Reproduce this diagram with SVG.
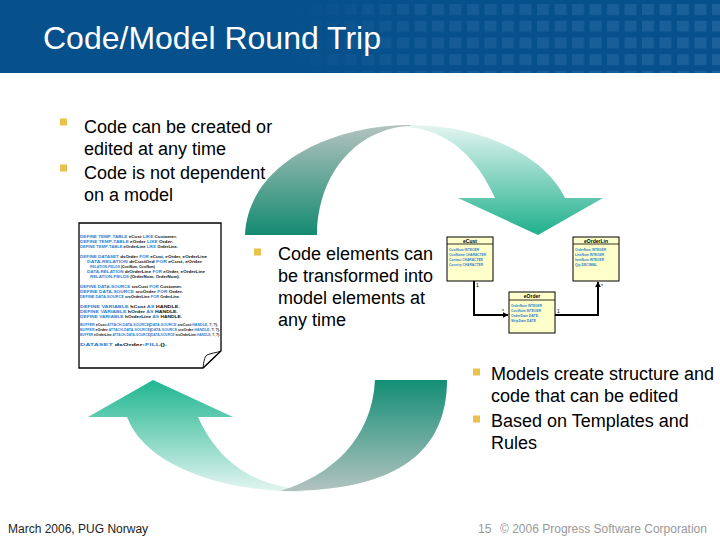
<svg xmlns="http://www.w3.org/2000/svg" width="720" height="540" viewBox="0 0 720 540">
<defs>
<style>
.t{font-family:"Liberation Sans",Arial,sans-serif;fill:#000}
.b18{font-size:18px}
.bul{fill:#e8c24a}
.code{font-family:"Liberation Sans",Arial,sans-serif;font-size:3.6px;font-weight:bold;fill:#111}
.code2{font-size:3.3px}
.kw{fill:#2f7fd0}
.box{fill:#ffffcc;stroke:#000;stroke-width:1}
.bt{font-family:"Liberation Sans",Arial,sans-serif;font-size:5px;font-weight:bold;fill:#000}
.at{font-family:"Liberation Sans",Arial,sans-serif;font-size:3.8px;font-weight:bold;fill:#2f7fd0}
.conn{fill:none;stroke:#000;stroke-width:2}
.mult{font-family:"Liberation Sans",Arial,sans-serif;font-size:5px;fill:#000}
</style>
<pattern id="sq" patternUnits="userSpaceOnUse" x="292" y="4" width="17.5" height="16.7">
<rect x="0" y="0" width="12" height="11" fill="#3a78b0" fill-opacity="0.45"/>
</pattern>
<linearGradient id="fade" gradientUnits="userSpaceOnUse" x1="292" y1="0" x2="720" y2="0">
<stop offset="0" stop-color="#06508b" stop-opacity="1"/>
<stop offset="0.3" stop-color="#06508b" stop-opacity="0.4"/>
<stop offset="1" stop-color="#06508b" stop-opacity="0.1"/>
</linearGradient>
<linearGradient id="topTail" gradientUnits="userSpaceOnUse" x1="0" y1="125" x2="0" y2="235">
<stop offset="0" stop-color="#b4c3c0"/>
<stop offset="1" stop-color="#138a70"/>
</linearGradient>
<linearGradient id="topHead" gradientUnits="userSpaceOnUse" x1="0" y1="125" x2="0" y2="235">
<stop offset="0" stop-color="#e4f5f1"/>
<stop offset="1" stop-color="#1fb08c"/>
</linearGradient>
<linearGradient id="botTail" gradientUnits="userSpaceOnUse" x1="0" y1="380" x2="0" y2="492">
<stop offset="0" stop-color="#138e76"/>
<stop offset="1" stop-color="#b4c3c0"/>
</linearGradient>
<linearGradient id="botHead" gradientUnits="userSpaceOnUse" x1="0" y1="380" x2="0" y2="492">
<stop offset="0" stop-color="#1fb690"/>
<stop offset="1" stop-color="#e4f5f1"/>
</linearGradient>
<marker id="arr" viewBox="0 0 10 10" refX="9" refY="5" markerWidth="3" markerHeight="3" orient="auto">
<path d="M0,0 L10,5 L0,10 Z" fill="#000"/>
</marker>
</defs>

<rect width="720" height="540" fill="#fff"/>

<g id="title-bar">
<rect x="0" y="0" width="720" height="73" fill="#06508b"/>
<rect x="292" y="0" width="428" height="73" fill="url(#sq)"/>
<rect x="292" y="0" width="428" height="73" fill="url(#fade)"/>
<text x="43" y="49" style="font-family:'Liberation Sans',Arial,sans-serif;font-size:32px;fill:#fff">Code/Model Round Trip</text>
</g>

<g id="arrows">
<path id="top-head" d="M410,125 C480,125 545,155 565,198 L603,198 L538,235 L458,198 L495,198 C478,160 450,130 407,127 Z" fill="url(#topHead)"/>
<path id="top-tail" d="M245,235 C248,165 330,125 410,125 L410,126 C360,128 318,170 317,235 Z" fill="url(#topTail)"/>
<path id="bottom-head" d="M305,492 C220,492 145,465 127,417 L88,417 L153,380 L233,417 L198,417 C215,455 245,480 285,487 Z" fill="url(#botHead)"/>
<path id="bottom-tail" d="M375,380 L447,380 C447,450 400,492 280,491 C330,476 372,440 375,380 Z" fill="url(#botTail)"/>
</g>

<g id="bullets-left">
<rect class="bul" x="60" y="118.5" width="7" height="7"/>
<rect class="bul" x="60" y="164.5" width="7" height="7"/>
<text class="t b18" x="84" y="133">Code can be created or</text>
<text class="t b18" x="84" y="155">edited at any time</text>
<text class="t b18" x="84" y="179">Code is not dependent</text>
<text class="t b18" x="84" y="201">on a model</text>
</g>

<g id="bullets-middle">
<rect class="bul" x="254" y="248.5" width="7" height="7"/>
<text class="t b18" x="278" y="260">Code elements can</text>
<text class="t b18" x="278" y="282">be transformed into</text>
<text class="t b18" x="278" y="304">model elements at</text>
<text class="t b18" x="278" y="326">any time</text>
</g>

<g id="bullets-right">
<rect class="bul" x="473" y="368.5" width="7" height="7"/>
<rect class="bul" x="473" y="415.5" width="7" height="7"/>
<text class="t b18" x="491" y="380">Models create structure and</text>
<text class="t b18" x="491" y="402">code that can be edited</text>
<text class="t b18" x="491" y="427">Based on Templates and</text>
<text class="t b18" x="491" y="449">Rules</text>
</g>

<g id="code-doc">
<path d="M79,223 H221 V351 L203,368 H79 Z" fill="#fff" stroke="#000" stroke-width="1.3"/>
<path d="M203,368 C204,362 204,357 207,355 C211,353 216,353 221,351 M203,368 L221,351" fill="none" stroke="#000" stroke-width="0.9"/>
<text class="code" x="80" y="238" textLength="97" lengthAdjust="spacingAndGlyphs"><tspan class="kw">DEFINE TEMP-TABLE</tspan> eCust <tspan class="kw">LIKE</tspan> Customer.</text>
<text class="code" x="80" y="243" textLength="93" lengthAdjust="spacingAndGlyphs"><tspan class="kw">DEFINE TEMP-TABLE</tspan> eOrder <tspan class="kw">LIKE</tspan> Order.</text>
<text class="code" x="80" y="248" textLength="98" lengthAdjust="spacingAndGlyphs"><tspan class="kw">DEFINE TEMP-TABLE</tspan> eOrderLine <tspan class="kw">LIKE</tspan> OrderLine.</text>
<text class="code" x="80" y="258" textLength="127" lengthAdjust="spacingAndGlyphs"><tspan class="kw">DEFINE DATASET</tspan> dsOrder <tspan class="kw">FOR</tspan> eCust, eOrder, eOrderLine</text>
<text class="code" x="87" y="263" textLength="115" lengthAdjust="spacingAndGlyphs"><tspan class="kw">DATA-RELATION</tspan> drCustOrd <tspan class="kw">FOR</tspan> eCust, eOrder</text>
<text class="code" x="90" y="268" textLength="65" lengthAdjust="spacingAndGlyphs"><tspan class="kw">RELATION-FIELDS</tspan> (CustNum, CustNum)</text>
<text class="code" x="87" y="273" textLength="118" lengthAdjust="spacingAndGlyphs"><tspan class="kw">DATA-RELATION</tspan> drOrderLine <tspan class="kw">FOR</tspan> eOrder, eOrderLine</text>
<text class="code" x="90" y="278" textLength="90" lengthAdjust="spacingAndGlyphs"><tspan class="kw">RELATION-FIELDS</tspan> (OrderNum, OrderNum).</text>
<text class="code" x="80" y="288" textLength="102" lengthAdjust="spacingAndGlyphs"><tspan class="kw">DEFINE DATA-SOURCE</tspan> srcCust <tspan class="kw">FOR</tspan> Customer.</text>
<text class="code" x="80" y="293" textLength="103" lengthAdjust="spacingAndGlyphs"><tspan class="kw">DEFINE DATA-SOURCE</tspan> srcOrder <tspan class="kw">FOR</tspan> Order.</text>
<text class="code" x="80" y="298" textLength="100" lengthAdjust="spacingAndGlyphs"><tspan class="kw">DEFINE DATA-SOURCE</tspan> srcOrderLine <tspan class="kw">FOR</tspan> OrderLine.</text>
<text class="code" x="80" y="308" textLength="100" lengthAdjust="spacingAndGlyphs"><tspan class="kw">DEFINE VARIABLE</tspan> hCust <tspan class="kw">AS</tspan> HANDLE.</text>
<text class="code" x="80" y="313" textLength="98" lengthAdjust="spacingAndGlyphs"><tspan class="kw">DEFINE VARIABLE</tspan> hOrder <tspan class="kw">AS</tspan> HANDLE.</text>
<text class="code" x="80" y="318" textLength="102" lengthAdjust="spacingAndGlyphs"><tspan class="kw">DEFINE VARIABLE</tspan> hOrderLine <tspan class="kw">AS</tspan> HANDLE.</text>
<text class="code code2" x="80" y="326" textLength="138" lengthAdjust="spacingAndGlyphs"><tspan class="kw">BUFFER</tspan> eCust:<tspan class="kw">ATTACH-DATA-SOURCE</tspan>(<tspan class="kw">DATA-SOURCE</tspan> srcCust:<tspan class="kw">HANDLE</tspan>, ?, ?).</text>
<text class="code code2" x="80" y="331" textLength="140" lengthAdjust="spacingAndGlyphs"><tspan class="kw">BUFFER</tspan> eOrder:<tspan class="kw">ATTACH-DATA-SOURCE</tspan>(<tspan class="kw">DATA-SOURCE</tspan> srcOrder:<tspan class="kw">HANDLE</tspan>, ?, ?).</text>
<text class="code code2" x="80" y="336" textLength="140" lengthAdjust="spacingAndGlyphs"><tspan class="kw">BUFFER</tspan> eOrderLine:<tspan class="kw">ATTACH-DATA-SOURCE</tspan>(<tspan class="kw">DATA-SOURCE</tspan> srcOrderLine:<tspan class="kw">HANDLE</tspan>, ?, ?).</text>
<text class="code" x="80" y="346" textLength="87" lengthAdjust="spacingAndGlyphs"><tspan class="kw">DATASET</tspan> dsOrder:<tspan class="kw">FILL</tspan>().</text>
</g>

<g id="node-eCust">
<rect class="box" x="447" y="237" width="46" height="44"/>
<line x1="447" y1="244" x2="493" y2="244" stroke="#000" stroke-width="0.8"/>
<text class="bt" x="470" y="242.5" text-anchor="middle">eCust</text>
<text class="at" x="449" y="251" textLength="30" lengthAdjust="spacingAndGlyphs">CustNum INTEGER</text>
<text class="at" x="449" y="256" textLength="37" lengthAdjust="spacingAndGlyphs">CustName CHARACTER</text>
<text class="at" x="449" y="261" textLength="34" lengthAdjust="spacingAndGlyphs">Contact CHARACTER</text>
<text class="at" x="449" y="266" textLength="34" lengthAdjust="spacingAndGlyphs">Country CHARACTER</text>
</g>

<g id="node-eOrderLin">
<rect class="box" x="573" y="237" width="46" height="44"/>
<line x1="573" y1="244" x2="619" y2="244" stroke="#000" stroke-width="0.8"/>
<text class="bt" x="596" y="242.5" text-anchor="middle">eOrderLin</text>
<text class="at" x="575" y="251" textLength="31" lengthAdjust="spacingAndGlyphs">OrderNum INTEGER</text>
<text class="at" x="575" y="256" textLength="29" lengthAdjust="spacingAndGlyphs">LineNum INTEGER</text>
<text class="at" x="575" y="261" textLength="29" lengthAdjust="spacingAndGlyphs">ItemNum INTEGER</text>
<text class="at" x="575" y="266" textLength="22" lengthAdjust="spacingAndGlyphs">Qty DECIMAL</text>
</g>

<g id="node-eOrder">
<rect class="box" x="509" y="292" width="46" height="41"/>
<line x1="509" y1="300" x2="555" y2="300" stroke="#000" stroke-width="0.8"/>
<text class="bt" x="532" y="298" text-anchor="middle">eOrder</text>
<text class="at" x="511" y="307" textLength="31" lengthAdjust="spacingAndGlyphs">OrderNum INTEGER</text>
<text class="at" x="511" y="312" textLength="30" lengthAdjust="spacingAndGlyphs">CustNum INTEGER</text>
<text class="at" x="511" y="317" textLength="27" lengthAdjust="spacingAndGlyphs">OrderDate DATE</text>
<text class="at" x="511" y="322" textLength="25" lengthAdjust="spacingAndGlyphs">ShipDate DATE</text>
</g>

<g id="connectors">
<path class="conn" d="M474,281 V315 H508" marker-end="url(#arr)"/>
<path class="conn" d="M555,315 H598 V282" marker-end="url(#arr)"/>
<text class="mult" x="476" y="287">1</text>
<text class="mult" x="557" y="313">1</text>
<text class="mult" x="601" y="288">*</text>
<text class="mult" x="502" y="313">*</text>
</g>

<g id="footer">
<text x="8" y="533" style="font-family:'Liberation Sans',Arial,sans-serif;font-size:12px;fill:#222">March 2006, PUG Norway</text>
<text x="478" y="533" style="font-family:'Liberation Sans',Arial,sans-serif;font-size:12px;fill:#999">15</text>
<text x="500" y="533" style="font-family:'Liberation Sans',Arial,sans-serif;font-size:12px;fill:#999">© 2006 Progress Software Corporation</text>
</g>
</svg>
